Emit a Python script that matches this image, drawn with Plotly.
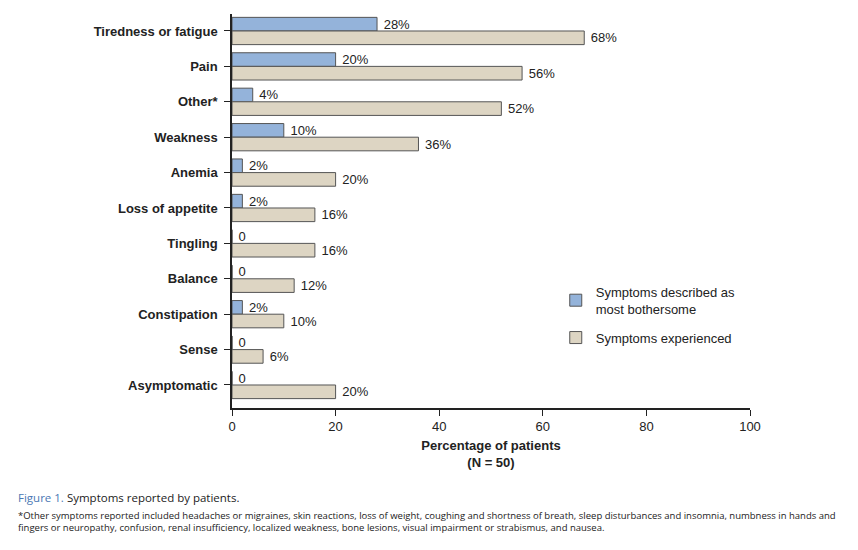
import plotly.graph_objects as go

symptoms = [
    "Tiredness or fatigue", "Pain", "Other*", "Weakness", "Anemia",
    "Loss of appetite", "Tingling", "Balance", "Constipation", "Sense",
    "Asymptomatic",
]
bothersome = [28, 20, 4, 10, 2, 2, 0, 0, 2, 0, 0]
experienced = [68, 56, 52, 36, 20, 16, 16, 12, 10, 6, 20]
x_ticks = [0, 20, 40, 60, 80, 100]


def label(v):
    # a no-break space pushes the label a little off the bar end
    return "\u00a0" + ("0" if v == 0 else f"{v}%")


FONT = "Arial, Liberation Sans, sans-serif"
CAPTION_FONT = "Open Sans, sans-serif"
LINE = "#555555"

fig = go.Figure()
fig.add_trace(go.Bar(
    name="Symptoms described as<br>most bothersome", legendgroup="a",
    y=symptoms, x=bothersome, orientation="h",
    marker=dict(color="#94b3da", line=dict(color=LINE, width=1)),
    text=[label(v) for v in bothersome], textposition="outside",
    constraintext="none", textfont=dict(size=13, color="#222"), cliponaxis=False,
))
fig.add_trace(go.Bar(
    name="Symptoms experienced", legendgroup="b",
    y=symptoms, x=experienced, orientation="h",
    marker=dict(color="#ddd5c3", line=dict(color=LINE, width=1)),
    text=[label(v) for v in experienced], textposition="outside",
    constraintext="none", textfont=dict(size=13, color="#222"), cliponaxis=False,
))

# page body adds 8px margin, so the figure is a bit smaller than the window
fig.update_layout(
    width=850, height=542,
    margin=dict(l=224, r=108, t=6, b=142),
    paper_bgcolor="white", plot_bgcolor="white",
    font=dict(family=FONT, size=13, color="#222"),
    barmode="group", bargap=0.23, bargroupgap=0,
    legend=dict(x=0.625, y=0.333, xanchor="left", yanchor="top",
                font=dict(size=13, color="#222"), bgcolor="rgba(0,0,0,0)",
                traceorder="grouped", tracegroupgap=9),
)
fig.update_xaxes(
    range=[0, 100], tickvals=x_ticks, ticks="outside", ticklen=6,
    tickcolor="#222", showline=True, linecolor="#222", linewidth=1.5,
    showgrid=False, zeroline=False, tickfont=dict(size=13),
    title=dict(text="<b>Percentage of patients</b><br><b>(N = 50)</b>",
               font=dict(size=13), standoff=8),
)
fig.update_yaxes(
    categoryorder="array", categoryarray=symptoms,
    range=[10.65, -0.48], ticks="outside", ticklen=6, tickcolor="#222",
    showline=True, linecolor="#222", linewidth=1.5, showgrid=False,
    tickfont=dict(size=13), ticklabelstandoff=4,
    tickvals=symptoms, ticktext=[f"<b>{s}</b>" for s in symptoms],
)

fig.add_annotation(
    xref="paper", yref="paper", x=-(224 - 8) / 518, y=-(497 - 408) / 394,
    xanchor="left", yanchor="middle", showarrow=False,
    text="<span style='color:#4a78b4'>Figure 1.</span> Symptoms reported by patients.",
    font=dict(family=CAPTION_FONT, size=11.5, color="#222"),
)
fig.add_annotation(
    xref="paper", yref="paper", x=-(224 - 8) / 518, y=-(507 - 408) / 394,
    xanchor="left", yanchor="top", showarrow=False, align="left",
    text=("*Other symptoms reported included headaches or migraines, skin reactions, loss of weight, "
          "coughing and shortness of breath, sleep disturbances and insomnia, numbness in hands and<br>"
          "fingers or neuropathy, confusion, renal insufficiency, localized weakness, bone lesions, "
          "visual impairment or strabismus, and nausea."),
    font=dict(family=CAPTION_FONT, size=9.5, color="#222"),
)

fig.write_html("out.html")
